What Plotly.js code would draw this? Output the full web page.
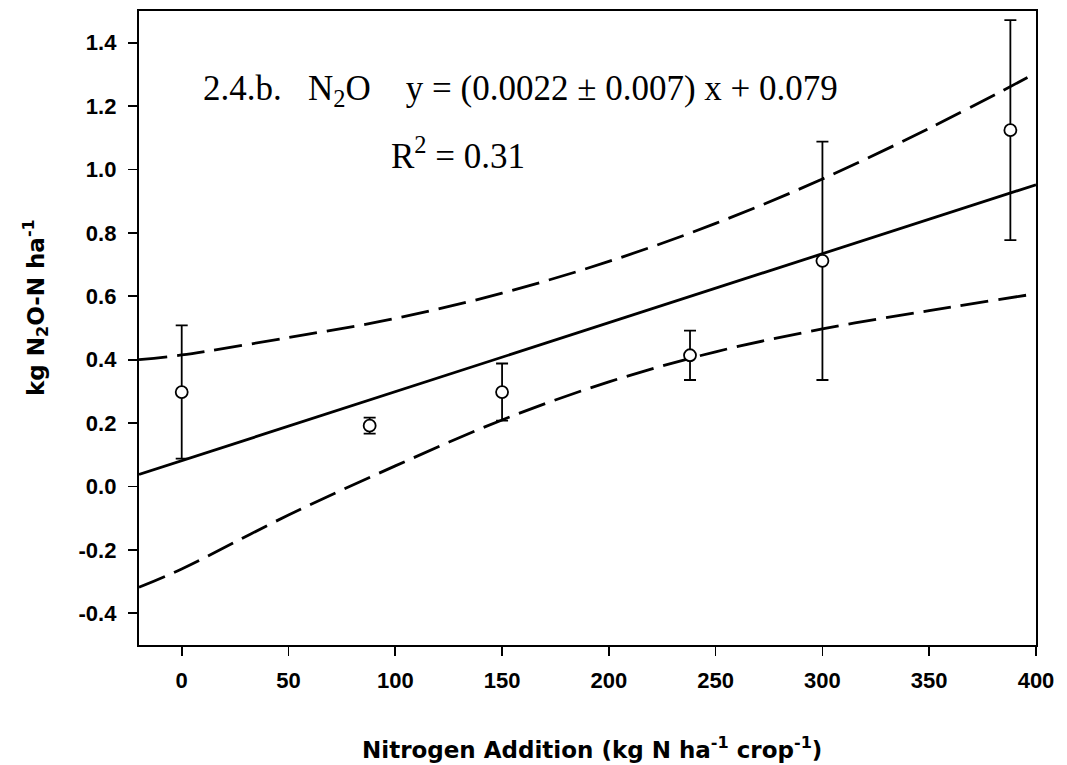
<!DOCTYPE html>
<html>
<head>
<meta charset="utf-8">
<script src="https://cdn.plot.ly/plotly-3.0.1.min.js"></script>
<style>html,body{margin:0;padding:0;background:#fff;}#chart{width:1067px;height:765px;}</style>
</head>
<body>
<div id="chart"></div>
<script>
// Observed means with error bars
const nitrogen = [0, 88, 150, 238, 300, 388];
const n2o = [0.298, 0.192, 0.298, 0.414, 0.712, 1.124];
const n2oErr = [0.21, 0.025, 0.09, 0.078, 0.376, 0.347];

// Regression line (read endpoints)
const fitX = [-20, 400];
const fitY = [0.038, 0.952];

// Confidence band
const bandX = [-20, 0, 50, 100, 150, 200, 250, 300, 350, 396];
const bandUpper = [0.40, 0.415, 0.47, 0.53, 0.61, 0.71, 0.83, 0.97, 1.13, 1.29];
const bandLower = [-0.318, -0.26, -0.09, 0.065, 0.21, 0.33, 0.425, 0.497, 0.555, 0.604];

const xTicks = [0, 50, 100, 150, 200, 250, 300, 350, 400];
const yTicks = [-0.4, -0.2, 0.0, 0.2, 0.4, 0.6, 0.8, 1.0, 1.2, 1.4];
const yTickLabels = ['-0.4', '-0.2', '0.0', '0.2', '0.4', '0.6', '0.8', '1.0', '1.2', '1.4'];

const xTitle = 'Nitrogen Addition (kg N ha<sup>-1</sup> crop<sup>-1</sup>)';
const yTitle = 'kg N<sub>2</sub>O-N ha<sup>-1</sup>';
const eqText = '2.4.b.\u00A0\u00A0\u00A0N<sub>2</sub>O\u00A0\u00A0\u00A0\u00A0y = (0.0022 \u00B1 0.007) x + 0.079';
const r2Text = 'R<sup>2</sup> = 0.31';

const dash = '28px,10px';
const titleFont = {size: 23, family: 'DejaVu Sans, Verdana, sans-serif', weight: 'bold', color: '#000'};
const tickFont = {size: 22, family: 'Liberation Sans, Arial, sans-serif', weight: 'bold', color: '#000'};
const serifFont = {family: 'Liberation Serif, Times New Roman, serif', size: 35, color: '#000'};

const traces = [
  {x: bandX, y: bandUpper, mode: 'lines', line: {color: '#000', width: 2.8, dash: dash, shape: 'spline'}, hoverinfo: 'skip'},
  {x: bandX, y: bandLower, mode: 'lines', line: {color: '#000', width: 2.8, dash: dash, shape: 'spline'}, hoverinfo: 'skip'},
  {x: fitX, y: fitY, mode: 'lines', line: {color: '#000', width: 2.8}},
  {x: nitrogen, y: n2o, mode: 'markers',
   error_y: {type: 'data', array: n2oErr, visible: true, color: '#000', thickness: 1.8, width: 6},
   marker: {symbol: 'circle', size: 12, color: '#fff', line: {color: '#000', width: 1.8}}}
];

const layout = {
  width: 1067, height: 765,
  margin: {l: 139, r: 31, t: 11, b: 120},
  paper_bgcolor: '#fff', plot_bgcolor: '#fff',
  showlegend: false,
  font: {family: 'Liberation Sans, Arial, sans-serif', color: '#000'},
  xaxis: {
    range: [-20, 400], tickvals: xTicks, ticks: 'outside', ticklen: 9, tickwidth: 1.6, tickcolor: '#000',
    ticklabelstandoff: 5,
    showline: true, linewidth: 2.2, linecolor: '#000', mirror: true, showgrid: false, zeroline: false,
    tickfont: tickFont
  },
  yaxis: {
    range: [-0.5, 1.5], tickvals: yTicks, ticktext: yTickLabels, ticks: 'outside', ticklen: 9, tickwidth: 1.6, tickcolor: '#000',
    ticklabelstandoff: 7,
    showline: true, linewidth: 2.2, linecolor: '#000', mirror: true, showgrid: false, zeroline: false,
    tickfont: tickFont
  },
  annotations: [
    {x: 0.505, y: -0.1625, xref: 'paper', yref: 'paper', xanchor: 'center', yanchor: 'middle', showarrow: false,
     text: xTitle, font: titleFont},
    {x: -0.116, y: 0.533, xref: 'paper', yref: 'paper', xanchor: 'center', yanchor: 'middle', showarrow: false,
     textangle: -90, text: yTitle, font: titleFont},
    {x: 9, y: 1.248, xref: 'x', yref: 'y', xanchor: 'left', yanchor: 'middle', showarrow: false,
     text: eqText, font: serifFont},
    {x: 97, y: 1.05, xref: 'x', yref: 'y', xanchor: 'left', yanchor: 'middle', showarrow: false,
     text: r2Text, font: serifFont}
  ]
};

Plotly.newPlot('chart', traces, layout, {displayModeBar: false, staticPlot: true});
</script>
</body>
</html>
